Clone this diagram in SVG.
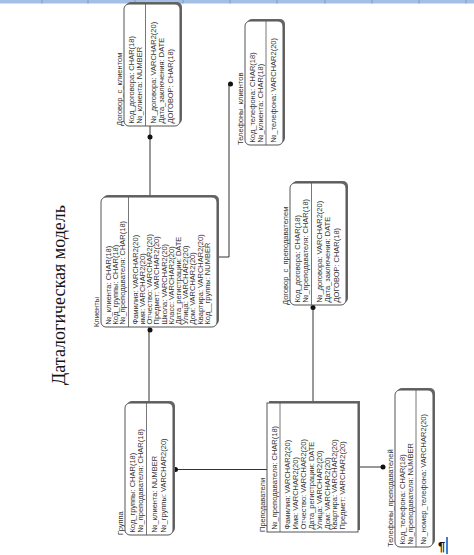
<svg xmlns="http://www.w3.org/2000/svg" width="474" height="555" viewBox="0 0 474 555">
<style>
.t{font-family:"Liberation Sans",Arial,sans-serif;font-size:7.5px;fill:#333}
.bx{fill:#fff;stroke:#555;stroke-width:1}
.sh{fill:#666}
.dv{stroke:#555;stroke-width:0.8}
.ln{fill:none;stroke:#333;stroke-width:1}
.dot{fill:#111}
.big{font-family:"Liberation Serif","Times New Roman",serif;font-size:18px;fill:#111}
</style>
<rect x="0" y="0" width="474" height="3.5" fill="#a4bfe6"/>
<path d="M42 0V3.5M88 0V3.5M135 0V3.5M183 0V3.5M230 0V3.5M277 0V3.5M325 0V3.5M372 0V3.5M419 0V3.5M466 0V3.5" stroke="#7b9ace" stroke-width="1"/>

<text class="big" transform="translate(65,385) rotate(-90)">Даталогическая модель</text>

<g id="connectors">
<path class="ln" d="M150 126V197"/>
<circle class="dot" cx="150" cy="137" r="2.5"/>
<path class="ln" d="M217 257H229V84"/>
<circle class="dot" cx="230.5" cy="84" r="2.5"/>
<path class="ln" d="M149 327V403"/>
<circle class="dot" cx="150" cy="330" r="2.5"/>
<path class="ln" d="M313 305V403"/>
<circle class="dot" cx="313" cy="307.5" r="2.5"/>
<path class="ln" d="M173 469.5H267"/>
<circle class="dot" cx="175.5" cy="469.5" r="2.5"/>
<path class="ln" d="M358 467H383"/>
<circle class="dot" cx="383" cy="467" r="2.5"/>
</g>

<g id="dogovor_s_klientom" transform="translate(124,126) rotate(-90)">
<text class="t" x="0" y="-2.5">Договор_с_клиентом</text>
<rect class="sh" x="2" y="2" width="122" height="56" rx="5"/>
<rect class="bx" x="0" y="0" width="122" height="56" rx="5"/>
<line class="dv" x1="0" y1="21.5" x2="122" y2="21.5"/>
<text class="t" x="2.5" y="9.5">Код_договора: CHAR(18)</text>
<text class="t" x="2.5" y="17.5">№_клиента: NUMBER</text>
<text class="t" x="2.5" y="31.5">№_договора: VARCHAR2(20)</text>
<text class="t" x="2.5" y="40">Дата_заключения: DATE</text>
<text class="t" x="2.5" y="48.5">ДОГОВОР: CHAR(18)</text>
</g>

<g id="telefony_klientov" transform="translate(245,145) rotate(-90)">
<text class="t" x="0" y="-2.5">Телефоны_клиентов</text>
<rect class="sh" x="2" y="2" width="124" height="38" rx="5"/>
<rect class="bx" x="0" y="0" width="124" height="38" rx="5"/>
<line class="dv" x1="0" y1="21" x2="124" y2="21"/>
<text class="t" x="2.5" y="9.5">Код_телефона: CHAR(18)</text>
<text class="t" x="2.5" y="17.5">№_клиента: CHAR(18)</text>
<text class="t" x="2.5" y="31">№_телефона: VARCHAR2(20)</text>
</g>

<g id="klienty" transform="translate(101,327) rotate(-90)">
<text class="t" x="0" y="-2.5">Клиенты</text>
<rect class="sh" x="2" y="2" width="130" height="116" rx="5"/>
<rect class="bx" x="0" y="0" width="130" height="116" rx="5"/>
<line class="dv" x1="0" y1="27.5" x2="130" y2="27.5"/>
<text class="t" x="2.5" y="9.7">№_клиента: CHAR(18)</text>
<text class="t" x="2.5" y="16.9">Код_группы: CHAR(18)</text>
<text class="t" x="2.5" y="24.1">№_преподавателя: CHAR(18)</text>
<text class="t" x="2.5" y="36.7">Фамилия: VARCHAR2(20)</text>
<text class="t" x="2.5" y="43.9">имя: VARCHAR2(20)</text>
<text class="t" x="2.5" y="51.1">Отчество: VARCHAR2(20)</text>
<text class="t" x="2.5" y="58.3">Предмет: VARCHAR2(20)</text>
<text class="t" x="2.5" y="65.5">Школа: VARCHAR2(20)</text>
<text class="t" x="2.5" y="72.7">Класс: VARCHAR2(20)</text>
<text class="t" x="2.5" y="79.9">Дата_регистрации: DATE</text>
<text class="t" x="2.5" y="87.1">Улица: VARCHAR2(20)</text>
<text class="t" x="2.5" y="94.3">Дом: VARCHAR2(20)</text>
<text class="t" x="2.5" y="101.5">Квартира: VARCHAR2(20)</text>
<text class="t" x="2.5" y="108.7">Код__группы: NUMBER</text>
</g>

<g id="dogovor_s_prepodavatelem" transform="translate(290,305) rotate(-90)">
<text class="t" x="0" y="-2.5">Договор_с_преподавателем</text>
<rect class="sh" x="2" y="2" width="122" height="56" rx="5"/>
<rect class="bx" x="0" y="0" width="122" height="56" rx="5"/>
<line class="dv" x1="0" y1="21.5" x2="122" y2="21.5"/>
<text class="t" x="2.5" y="9.5">Код_договора: CHAR(18)</text>
<text class="t" x="2.5" y="17.5">№_преподавателя: CHAR(18)</text>
<text class="t" x="2.5" y="31.5">№_договора: VARCHAR2(20)</text>
<text class="t" x="2.5" y="40">Дата_заключения: DATE</text>
<text class="t" x="2.5" y="48.5">ДОГОВОР: CHAR(18)</text>
</g>

<g id="gruppa" transform="translate(125,535) rotate(-90)">
<text class="t" x="0" y="-2.5">Группа</text>
<rect class="sh" x="2" y="2" width="132" height="48" rx="5"/>
<rect class="bx" x="0" y="0" width="132" height="48" rx="5"/>
<line class="dv" x1="0" y1="21.5" x2="132" y2="21.5"/>
<text class="t" x="2.5" y="9.5">Код_группы: CHAR(18)</text>
<text class="t" x="2.5" y="18">№_преподавателя: CHAR(18)</text>
<text class="t" x="2.5" y="32">№_клиента: NUMBER</text>
<text class="t" x="2.5" y="40.5">№_группы: VARCHAR2(20)</text>
</g>

<g id="prepodavateli" transform="translate(267,532) rotate(-90)">
<text class="t" x="0" y="-2.5">Преподаватели</text>
<rect class="sh" x="2" y="2" width="129" height="91"/>
<rect class="bx" x="0" y="0" width="129" height="91"/>
<line class="dv" x1="0" y1="13" x2="129" y2="13"/>
<text class="t" x="2.5" y="9.5">№_преподавателя: CHAR(18)</text>
<text class="t" x="2.5" y="23">Фамилия: VARCHAR2(20)</text>
<text class="t" x="2.5" y="30.9">Имя: VARCHAR2(20)</text>
<text class="t" x="2.5" y="38.8">Отчество: VARCHAR2(20)</text>
<text class="t" x="2.5" y="46.7">Дата_регистрации: DATE</text>
<text class="t" x="2.5" y="54.6">Улица: VARCHAR2(20)</text>
<text class="t" x="2.5" y="62.5">Дом: VARCHAR2(20)</text>
<text class="t" x="2.5" y="70.4">Квартира: VARCHAR2(20)</text>
<text class="t" x="2.5" y="78.3">Предмет: VARCHAR2(20)</text>
</g>

<g id="telefony_prepodavatelei" transform="translate(395,547) rotate(-90)">
<text class="t" x="0" y="-2.5">Телефоны_преподавателей</text>
<rect class="sh" x="2" y="2" width="157" height="38" rx="5"/>
<rect class="bx" x="0" y="0" width="157" height="38" rx="5"/>
<line class="dv" x1="0" y1="21" x2="157" y2="21"/>
<text class="t" x="2.5" y="9.5">Код_телефона: CHAR(18)</text>
<text class="t" x="2.5" y="17.5">№_преподавателя: NUMBER</text>
<text class="t" x="2.5" y="31">№_номер_телефона: VARCHAR2(20)</text>
</g>

<text x="438" y="551" font-family="Liberation Sans,Arial,sans-serif" font-size="13" font-weight="bold" fill="#111">¶</text>
<rect x="446" y="537" width="2" height="17" fill="#4a78d0"/>
</svg>
